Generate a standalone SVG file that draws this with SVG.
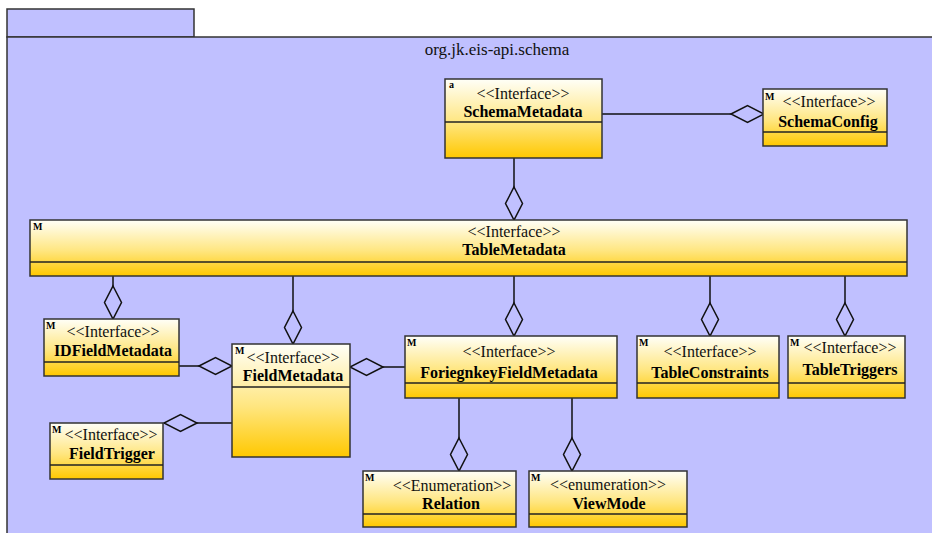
<svg xmlns="http://www.w3.org/2000/svg" width="932" height="533" viewBox="0 0 932 533">
<defs>
<linearGradient id="g" x1="0" y1="0" x2="0" y2="1">
<stop offset="0" stop-color="#fffff8"/>
<stop offset="0.55" stop-color="#ffe680"/>
<stop offset="1" stop-color="#ffc800"/>
</linearGradient>
<marker id="dia" markerUnits="userSpaceOnUse" markerWidth="36" markerHeight="20" refX="34" refY="10" orient="auto" overflow="visible">
<path d="M1,10 L17.5,1.5 L34,10 L17.5,18.5 Z" fill="#c0c0ff" stroke="#111" stroke-width="1.5"/>
</marker>
</defs>
<style>
.box{fill:url(#g);stroke:#333;stroke-width:1.5}
.div{stroke:#222;stroke-width:1.3}
.st{font-family:"Liberation Serif",serif;font-size:16px;text-anchor:middle;fill:#111}
.nm{font-family:"Liberation Serif",serif;font-size:16px;font-weight:bold;text-anchor:middle;fill:#000}
.m{font-family:"Liberation Serif",serif;font-size:10px;font-weight:bold;fill:#000}
.c{fill:none;stroke:#111;stroke-width:1.5;marker-end:url(#dia)}
</style>
<rect x="0" y="0" width="932" height="533" fill="#fff"/>
<g id="package">
<rect x="7" y="9" width="187" height="28" fill="#c0c0ff" stroke="#333" stroke-width="1.5"/>
<rect x="7" y="37" width="940" height="510" fill="#c0c0ff" stroke="#333" stroke-width="1.5"/>
<text x="497" y="55" font-family="Liberation Serif, serif" font-size="17" text-anchor="middle" fill="#111">org.jk.eis-api.schema</text>
</g>
<g id="connectors">
<path class="c" d="M602,114 L764,114"/>
<path class="c" d="M514,158 L514,220"/>
<path class="c" d="M113,276 L113,319"/>
<path class="c" d="M293,276 L293,344"/>
<path class="c" d="M514,276 L514,336"/>
<path class="c" d="M710,276 L710,336"/>
<path class="c" d="M845,276 L845,336"/>
<path class="c" d="M179,366 L232,366"/>
<path class="c" d="M232,423 L164,423"/>
<path class="c" d="M405,367 L350,367"/>
<path class="c" d="M459,398 L459,471"/>
<path class="c" d="M572,398 L572,471"/>
</g>
<g id="SchemaMetadata">
<rect class="box" x="445" y="79" width="157" height="79"/>
<line class="div" x1="445" y1="122" x2="602" y2="122"/>
<text class="m" x="449" y="88" font-weight="normal" font-size="9">a</text>
<text class="st" x="523" y="99">&lt;&lt;Interface&gt;&gt;</text>
<text class="nm" x="523" y="117">SchemaMetadata</text>
</g>
<g id="SchemaConfig">
<rect class="box" x="763" y="89" width="124" height="57"/>
<line class="div" x1="763" y1="132" x2="887" y2="132"/>
<text class="m" x="765" y="100">M</text>
<text class="st" x="829" y="107">&lt;&lt;Interface&gt;&gt;</text>
<text class="nm" x="828" y="127">SchemaConfig</text>
</g>
<g id="TableMetadata">
<rect class="box" x="30" y="220" width="877" height="56"/>
<line class="div" x1="30" y1="262" x2="907" y2="262"/>
<text class="m" x="33" y="230">M</text>
<text class="st" x="514" y="237">&lt;&lt;Interface&gt;&gt;</text>
<text class="nm" x="514" y="255">TableMetadata</text>
</g>
<g id="IDFieldMetadata">
<rect class="box" x="44" y="319" width="135" height="57"/>
<line class="div" x1="44" y1="362" x2="179" y2="362"/>
<text class="m" x="46" y="329">M</text>
<text class="st" x="113" y="337">&lt;&lt;Interface&gt;&gt;</text>
<text class="nm" x="113" y="356">IDFieldMetadata</text>
</g>
<g id="FieldMetadata">
<rect class="box" x="232" y="344" width="118" height="113"/>
<line class="div" x1="232" y1="387" x2="350" y2="387"/>
<text class="m" x="235" y="354">M</text>
<text class="st" x="293" y="363">&lt;&lt;Interface&gt;&gt;</text>
<text class="nm" x="293" y="381">FieldMetadata</text>
</g>
<g id="FieldTrigger">
<rect class="box" x="50" y="423" width="113" height="56"/>
<line class="div" x1="50" y1="465" x2="163" y2="465"/>
<text class="m" x="52" y="433">M</text>
<text class="st" x="111" y="440">&lt;&lt;Interface&gt;&gt;</text>
<text class="nm" x="112" y="459">FieldTrigger</text>
</g>
<g id="ForiegnkeyFieldMetadata">
<rect class="box" x="405" y="336" width="212" height="62"/>
<line class="div" x1="405" y1="383" x2="617" y2="383"/>
<text class="m" x="407" y="346">M</text>
<text class="st" x="509" y="357">&lt;&lt;Interface&gt;&gt;</text>
<text class="nm" x="509" y="378">ForiegnkeyFieldMetadata</text>
</g>
<g id="TableConstraints">
<rect class="box" x="637" y="336" width="142" height="62"/>
<line class="div" x1="637" y1="383" x2="779" y2="383"/>
<text class="m" x="639" y="346">M</text>
<text class="st" x="710" y="357">&lt;&lt;Interface&gt;&gt;</text>
<text class="nm" x="710" y="378">TableConstraints</text>
</g>
<g id="TableTriggers">
<rect class="box" x="788" y="336" width="117" height="62"/>
<line class="div" x1="788" y1="383" x2="905" y2="383"/>
<text class="m" x="790" y="346">M</text>
<text class="st" x="850" y="353">&lt;&lt;Interface&gt;&gt;</text>
<text class="nm" x="850" y="375">TableTriggers</text>
</g>
<g id="Relation">
<rect class="box" x="363" y="471" width="153" height="56"/>
<line class="div" x1="363" y1="514" x2="516" y2="514"/>
<text class="m" x="365" y="481">M</text>
<text class="st" x="452" y="491">&lt;&lt;Enumeration&gt;&gt;</text>
<text class="nm" x="451" y="509">Relation</text>
</g>
<g id="ViewMode">
<rect class="box" x="529" y="471" width="158" height="56"/>
<line class="div" x1="529" y1="514" x2="687" y2="514"/>
<text class="m" x="531" y="481">M</text>
<text class="st" x="608" y="490">&lt;&lt;enumeration&gt;&gt;</text>
<text class="nm" x="609" y="509">ViewMode</text>
</g>
</svg>
